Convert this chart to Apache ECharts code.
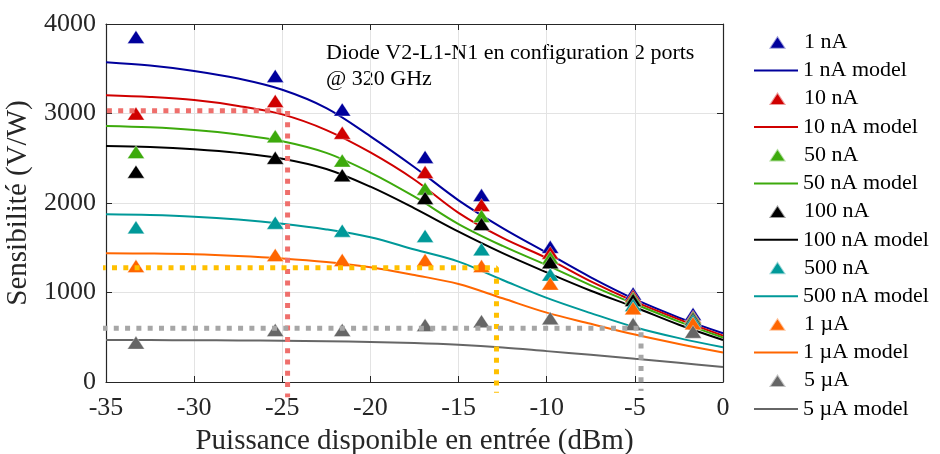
<!DOCTYPE html>
<html>
<head>
<meta charset="utf-8">
<script src="https://cdn.jsdelivr.net/npm/echarts@6/dist/echarts.min.js"></script>
<style>html,body{margin:0;padding:0;background:#fff}#c{width:940px;height:454px}</style>
</head>
<body>
<div id="c"></div>
<script>
// ---- data ----
const xMeas = [-33.3, -25.4, -21.6, -16.9, -13.7, -9.8, -5.1, -1.7];
const xModel = [-35, -32.5, -30, -27.5, -25, -22.5, -20, -17.5, -15, -12.5, -10, -7.5, -5, -2.5, 0];

const meas1nA   = [3855, 3420, 3045, 2515, 2088, 1510, 990, 760];
const meas10nA  = [3000, 3140, 2785, 2345, 1978, 1445, 960, 730];
const meas50nA  = [2570, 2745, 2475, 2160, 1855, 1390, 935, 718];
const meas100nA = [2350, 2505, 2310, 2055, 1765, 1338, 916, 704];
const meas500nA = [1728, 1780, 1691, 1632, 1483, 1200, 860, 685];
const meas1uA   = [1296, 1419, 1363, 1363, 1296, 1100, 823, 656];
const meas5uA   = [440, 581, 581, 637, 680, 712, 648, 562];

const model1nA   = [3572, 3535, 3475, 3390, 3265, 3060, 2745, 2400, 2030, 1720, 1445, 1170, 925, 720, 545];
const model10nA  = [3205, 3185, 3150, 3085, 2990, 2815, 2565, 2260, 1890, 1610, 1385, 1125, 898, 700, 518];
const model50nA  = [2860, 2845, 2815, 2765, 2690, 2560, 2340, 2070, 1765, 1520, 1305, 1080, 872, 675, 497];
const model100nA = [2637, 2625, 2600, 2560, 2495, 2380, 2182, 1940, 1680, 1440, 1225, 1020, 835, 640, 469];
const model500nA = [1873, 1865, 1847, 1815, 1768, 1705, 1617, 1480, 1345, 1140, 940, 770, 612, 490, 388];
const model1uA   = [1438, 1435, 1427, 1408, 1380, 1340, 1282, 1195, 1095, 935, 775, 650, 530, 425, 330];
const model5uA   = [469, 468, 467, 465, 462, 455, 447, 435, 415, 385, 345, 305, 260, 215, 168];

const seriesNames = ['1 nA', '10 nA', '50 nA', '100 nA', '500 nA', '1 µA', '5 µA'];
const measData = [meas1nA, meas10nA, meas50nA, meas100nA, meas500nA, meas1uA, meas5uA];
const modelData = [model1nA, model10nA, model50nA, model100nA, model500nA, model1uA, model5uA];
const colors = ['#00009C', '#D00000', '#3DAA0C', '#000000', '#009999', '#FF6600', '#666666'];

// reference (dotted) guide lines
const guideRedX = [-34.95, -24.7, -24.7];
const guideRedY = [3030, 3030, -170];
const guideYellowX = [-35.3, -12.85, -12.85];
const guideYellowY = [1277, 1277, -120];
const guideGrayX = [-35.2, -4.65, -4.65];
const guideGrayY = [600, 600, -100];

const annotationLines = ['Diode V2-L1-N1 en configuration 2 ports', '@ 320 GHz'];

// ---- chart ----
const FONT = 'Liberation Serif';
const zip = (xs, ys) => xs.map((x, i) => [x, ys[i]]);

const series = [];
seriesNames.forEach((name, i) => {
  series.push({
    name: name, type: 'scatter', data: zip(xMeas, measData[i]),
    symbol: 'triangle', symbolSize: [17, 13],
    itemStyle: { color: colors[i], borderColor: 'rgba(255,255,255,0.6)', borderWidth: 0.6, opacity: 1 },
    emphasis: { disabled: true }, z: 3
  });
  series.push({
    name: name + ' model', type: 'line', data: zip(xModel, modelData[i]),
    symbol: 'none', smooth: 0.35,
    lineStyle: { color: colors[i], width: 2 },
    itemStyle: { color: colors[i] },
    emphasis: { disabled: true }, z: 3
  });
});

const guide = (x, y, c) => ({
  type: 'line', data: zip(x, y), symbol: 'none', clip: false, silent: true,
  lineStyle: { color: c, width: 5, type: [5, 6.3], cap: 'butt' }, z: 4
});
series.push(guide(guideRedX, guideRedY, '#EF6F6C'));
series.push(guide(guideYellowX, guideYellowY, '#FFC000'));
series.push(guide(guideGrayX, guideGrayY, '#A6A6A6'));

const axisCommon = {
  axisLine: { show: true, onZero: false, lineStyle: { color: '#262626', width: 1.2 } },
  axisTick: { show: true, inside: true, length: 6, lineStyle: { color: '#262626', width: 1 } }
};

const legendText = { fontFamily: FONT, fontSize: 22, color: '#000', lineHeight: 26 };

const chart = echarts.init(document.getElementById('c'), null, { renderer: 'canvas' });
chart.setOption({
  animation: false,
  backgroundColor: '#fff',
  grid: { left: 106, right: 217, top: 24, bottom: 72, containLabel: false, outerBoundsMode: 'none' },
  xAxis: [
    Object.assign({
      type: 'value', min: -35, max: 0, interval: 5, position: 'bottom',
      name: 'Puissance disponible en entrée (dBm)', nameLocation: 'middle', nameGap: 45,
      nameTextStyle: { fontFamily: FONT, fontSize: 29, color: '#262626' },
      axisLabel: { fontFamily: FONT, fontSize: 26, color: '#262626', margin: 13, formatter: v => String(v) },
      splitLine: { show: true, lineStyle: { color: '#E3E3E3', width: 1 } }
    }, axisCommon),
    Object.assign({
      type: 'value', min: -35, max: 0, interval: 5, position: 'top',
      axisLabel: { show: false }, splitLine: { show: false }
    }, axisCommon)
  ],
  yAxis: [
    Object.assign({
      type: 'value', min: 0, max: 4000, interval: 1000, position: 'left',
      name: 'Sensibilité (V/W)', nameLocation: 'middle', nameGap: 63,
      nameTextStyle: { fontFamily: FONT, fontSize: 29, color: '#262626' },
      axisLabel: { fontFamily: FONT, fontSize: 26, color: '#262626', margin: 10, formatter: v => String(v) },
      splitLine: { show: true, lineStyle: { color: '#E3E3E3', width: 1 } }
    }, axisCommon),
    Object.assign({
      type: 'value', min: 0, max: 4000, interval: 1000, position: 'right',
      axisLabel: { show: false }, splitLine: { show: false }
    }, axisCommon)
  ],
  legend: [
    {
      orient: 'vertical', left: 768, top: 29.2, padding: 0,
      itemWidth: 17, itemHeight: 13, itemGap: 30.4, selectedMode: false,
      icon: 'triangle',
      textStyle: Object.assign({ padding: [0, 0, 0, 13] }, legendText),
      data: seriesNames
    },
    {
      orient: 'vertical', left: 754, top: 57.6, padding: 0,
      itemWidth: 44, itemHeight: 2, itemGap: 30.4, selectedMode: false,
      icon: 'rect',
      textStyle: legendText,
      data: seriesNames.map(n => n + ' model')
    }
  ],
  graphic: annotationLines.map((t, i) => ({
    type: 'text', left: 326, top: 42 + i * 26.7, silent: true,
    style: { text: t, font: '22px "Liberation Serif"', fill: '#000' }
  })),
  series: series
});
</script>
</body>
</html>
